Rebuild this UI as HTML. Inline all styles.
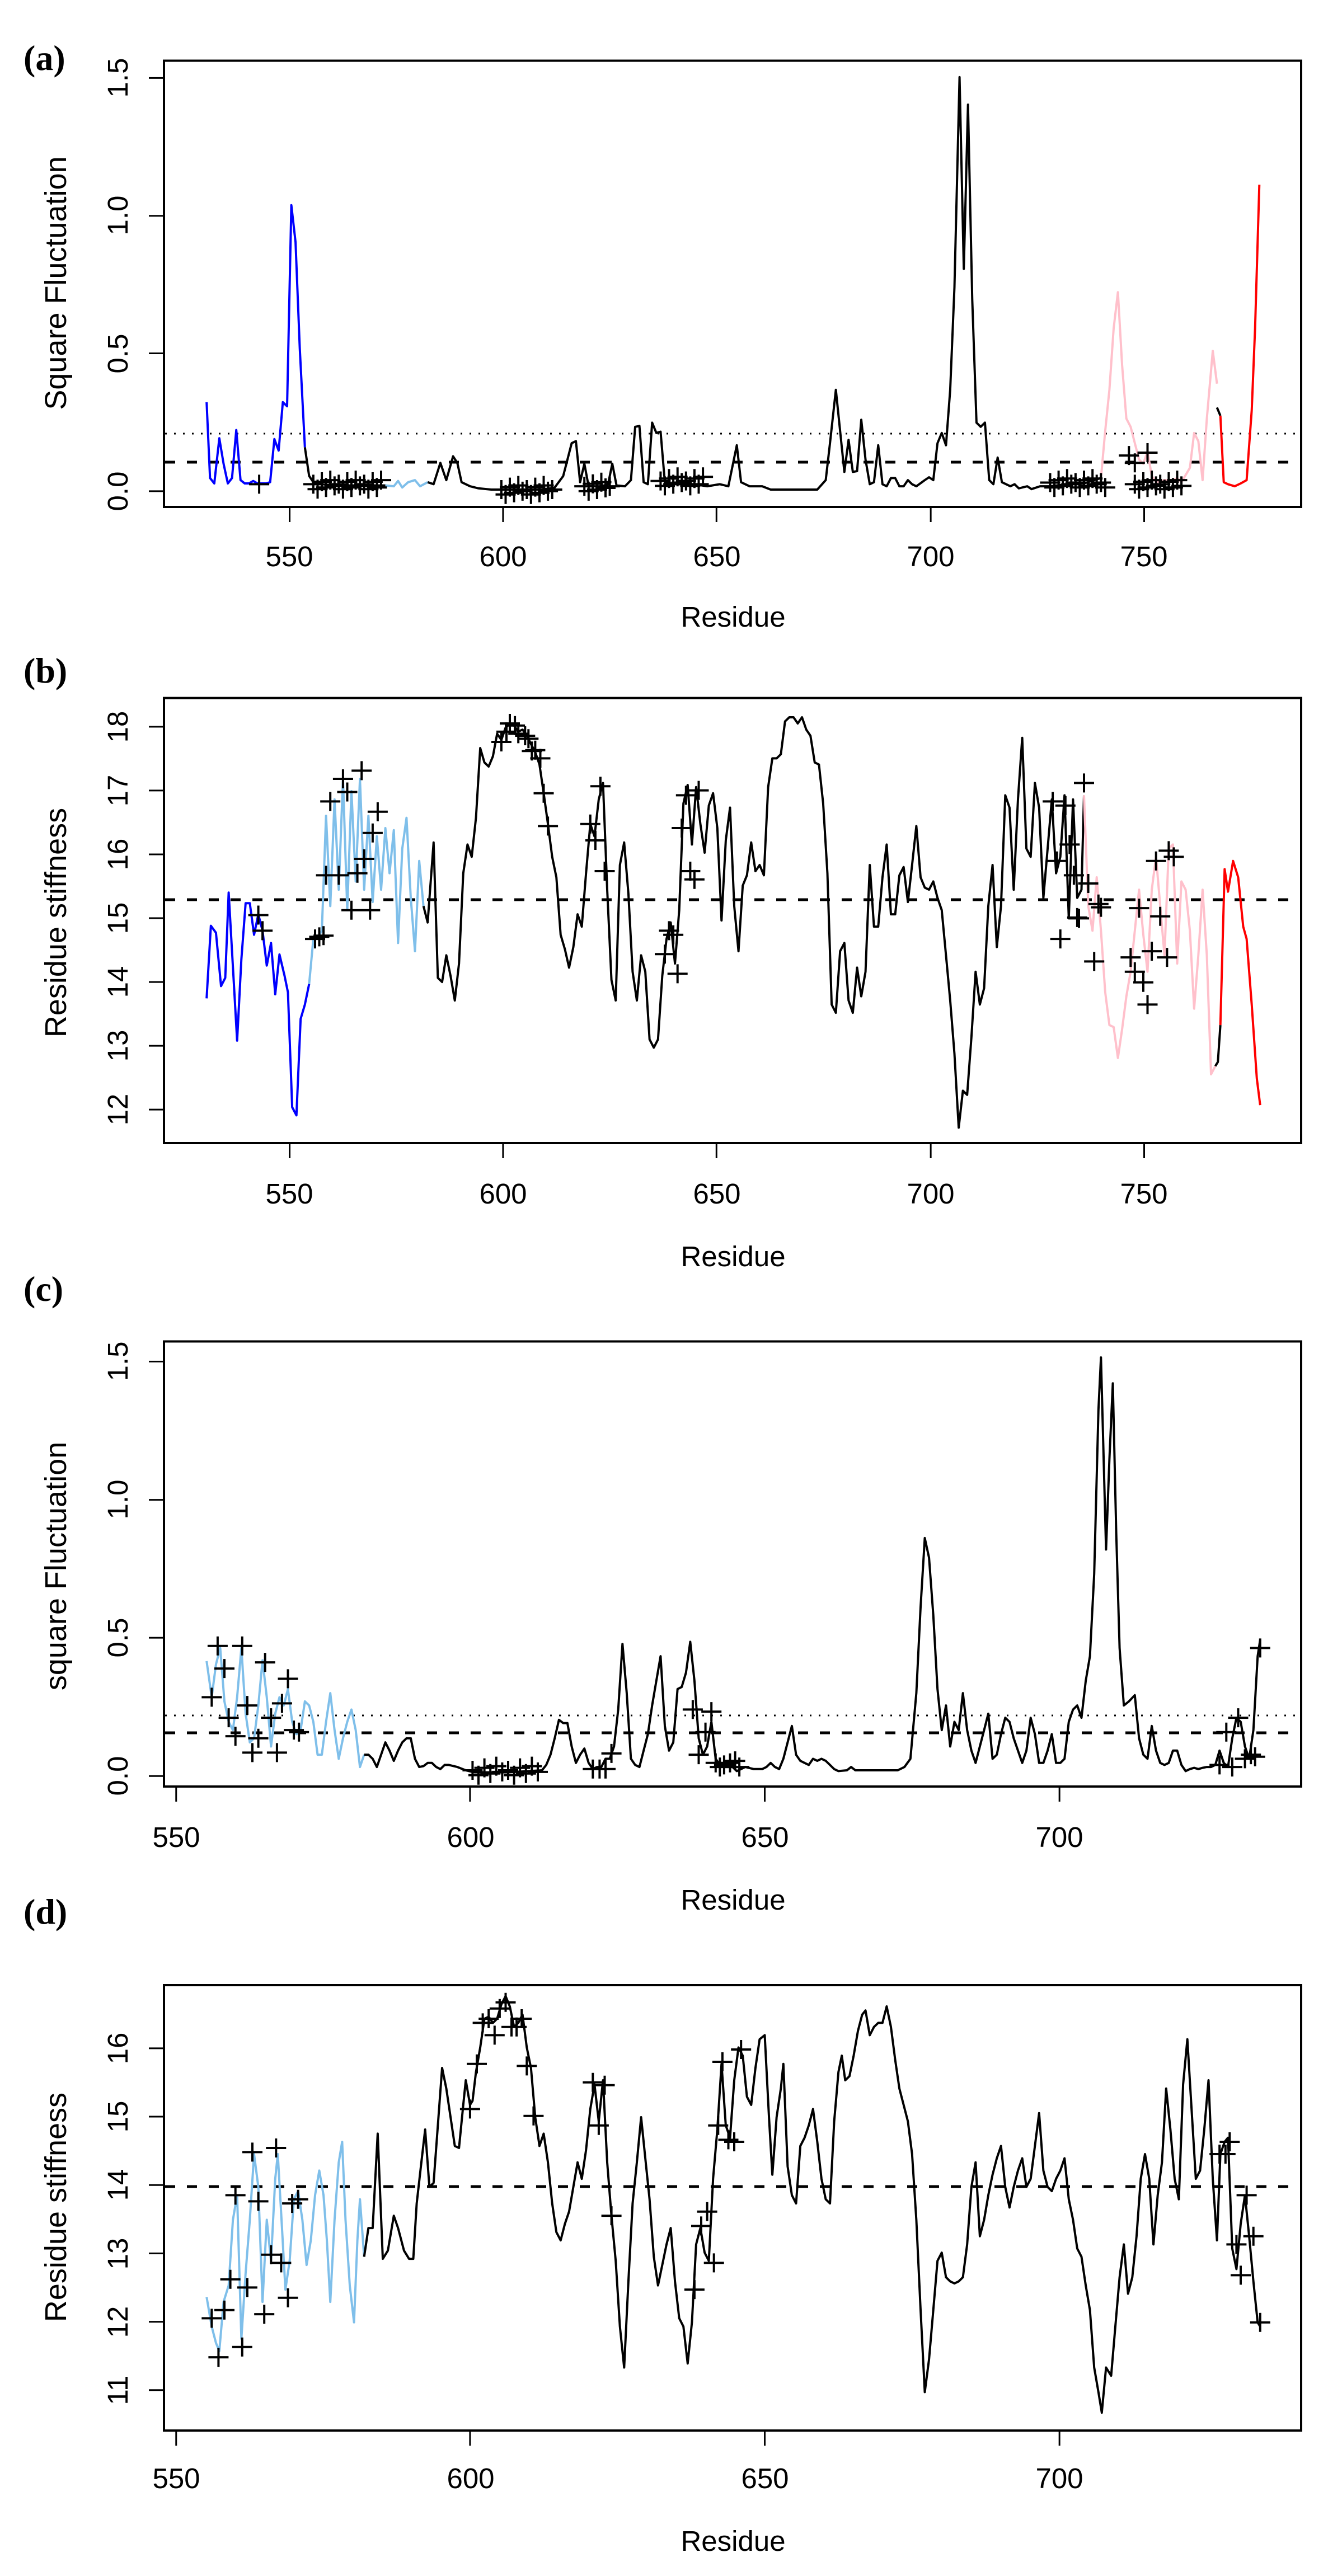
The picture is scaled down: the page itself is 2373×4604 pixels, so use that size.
<!DOCTYPE html>
<html><head><meta charset="utf-8"><style>
html,body{margin:0;padding:0;background:#fff;}
svg{display:block;}
text{font-family:"Liberation Sans",Arial,sans-serif;fill:#000;}
.pl{font-family:"Liberation Serif","Times New Roman",serif;font-weight:bold;font-size:64px;}
.tk{font-size:51px;}
.yl{font-size:54px;}
</style></head><body>
<svg id="s" width="2373" height="4604" viewBox="0 0 2373 4604" xmlns="http://www.w3.org/2000/svg">
<rect width="2373" height="4604" fill="#fff"/>
<text class="pl" x="42" y="125">(a)</text>
<text class="pl" x="42" y="1220">(b)</text>
<text class="pl" x="42" y="2325">(c)</text>
<text class="pl" x="42" y="3438">(d)</text>
<text class="tk" x="1310" y="1120" text-anchor="middle">Residue</text>
<text class="tk" x="1310" y="2263" text-anchor="middle">Residue</text>
<text class="tk" x="1310" y="3413" text-anchor="middle">Residue</text>
<text class="tk" x="1310" y="4559" text-anchor="middle">Residue</text>
<text class="yl" transform="translate(118,506) rotate(-90)" text-anchor="middle">Square Fluctuation</text>
<text class="yl" transform="translate(118,1649) rotate(-90)" text-anchor="middle">Residue stiffness</text>
<text class="yl" transform="translate(118,2799) rotate(-90)" text-anchor="middle">square Fluctuation</text>
<text class="yl" transform="translate(118,3945) rotate(-90)" text-anchor="middle">Residue stiffness</text>
<g id="ticklabels">
<!-- a y -->
<text class="tk" transform="translate(228,878) rotate(-90)" text-anchor="middle">0.0</text>
<text class="tk" transform="translate(228,632) rotate(-90)" text-anchor="middle">0.5</text>
<text class="tk" transform="translate(228,385) rotate(-90)" text-anchor="middle">1.0</text>
<text class="tk" transform="translate(228,139) rotate(-90)" text-anchor="middle">1.5</text>
<!-- a x -->
<text class="tk" x="517" y="1012" text-anchor="middle">550</text>
<text class="tk" x="899" y="1012" text-anchor="middle">600</text>
<text class="tk" x="1281" y="1012" text-anchor="middle">650</text>
<text class="tk" x="1663" y="1012" text-anchor="middle">700</text>
<text class="tk" x="2044" y="1012" text-anchor="middle">750</text>
<!-- b y -->
<text class="tk" transform="translate(228,1983) rotate(-90)" text-anchor="middle">12</text>
<text class="tk" transform="translate(228,1869) rotate(-90)" text-anchor="middle">13</text>
<text class="tk" transform="translate(228,1755) rotate(-90)" text-anchor="middle">14</text>
<text class="tk" transform="translate(228,1641) rotate(-90)" text-anchor="middle">15</text>
<text class="tk" transform="translate(228,1527) rotate(-90)" text-anchor="middle">16</text>
<text class="tk" transform="translate(228,1413) rotate(-90)" text-anchor="middle">17</text>
<text class="tk" transform="translate(228,1299) rotate(-90)" text-anchor="middle">18</text>
<text class="tk" x="517" y="2151" text-anchor="middle">550</text>
<text class="tk" x="899" y="2151" text-anchor="middle">600</text>
<text class="tk" x="1281" y="2151" text-anchor="middle">650</text>
<text class="tk" x="1663" y="2151" text-anchor="middle">700</text>
<text class="tk" x="2044" y="2151" text-anchor="middle">750</text>
<!-- c y -->
<text class="tk" transform="translate(228,3174) rotate(-90)" text-anchor="middle">0.0</text>
<text class="tk" transform="translate(228,2927) rotate(-90)" text-anchor="middle">0.5</text>
<text class="tk" transform="translate(228,2680) rotate(-90)" text-anchor="middle">1.0</text>
<text class="tk" transform="translate(228,2433) rotate(-90)" text-anchor="middle">1.5</text>
<text class="tk" x="315" y="3301" text-anchor="middle">550</text>
<text class="tk" x="841" y="3301" text-anchor="middle">600</text>
<text class="tk" x="1367" y="3301" text-anchor="middle">650</text>
<text class="tk" x="1893" y="3301" text-anchor="middle">700</text>
<!-- d y -->
<text class="tk" transform="translate(228,4272) rotate(-90)" text-anchor="middle">11</text>
<text class="tk" transform="translate(228,4150) rotate(-90)" text-anchor="middle">12</text>
<text class="tk" transform="translate(228,4028) rotate(-90)" text-anchor="middle">13</text>
<text class="tk" transform="translate(228,3905) rotate(-90)" text-anchor="middle">14</text>
<text class="tk" transform="translate(228,3783) rotate(-90)" text-anchor="middle">15</text>
<text class="tk" transform="translate(228,3661) rotate(-90)" text-anchor="middle">16</text>
<text class="tk" x="315" y="4447" text-anchor="middle">550</text>
<text class="tk" x="841" y="4447" text-anchor="middle">600</text>
<text class="tk" x="1367" y="4447" text-anchor="middle">650</text>
<text class="tk" x="1893" y="4447" text-anchor="middle">700</text>
</g>
<g id="plots"></g>
</svg>
<script>
(function(){
var NS="http://www.w3.org/2000/svg",G=document.getElementById("plots");
var KX=1/0.6608,KY=1150/1568;
function el(t,a){var e=document.createElementNS(NS,t);for(var k in a)e.setAttribute(k,a[k]);G.appendChild(e);return e;}
function line(p,off,col,w){var s=[];for(var i=0;i<p.length;i+=2)s.push((p[i]*KX).toFixed(1)+","+(p[i+1]*KY+off).toFixed(1));
 el("polyline",{points:s.join(" "),fill:"none",stroke:col,"stroke-width":w||4,"stroke-linejoin":"round"});}
function crosses(p,off){var d="";for(var i=0;i<p.length;i+=2){var x=p[i]*KX,y=p[i+1]*KY+off;
 d+="M"+(x-18).toFixed(1)+" "+y.toFixed(1)+"h36M"+x.toFixed(1)+" "+(y-17).toFixed(1)+"v34";}
 el("path",{d:d,stroke:"#000","stroke-width":4,fill:"none"});}
function dense(a,b,st,y,arr){var j=[0,12,-6,8,-10,4];var k=0;for(var x=a;x<=b;x+=st){arr.push(x,y+j[k%6]);k++;}}
function frame(top,bot,yt,xt,off){
 el("rect",{x:293,y:top,width:2032,height:bot-top,fill:"none",stroke:"#000","stroke-width":4});
 yt.forEach(function(v){var y=v*KY+off;el("line",{x1:266,y1:y,x2:293,y2:y,stroke:"#000","stroke-width":3});});
 xt.forEach(function(v){var x=v*KX;el("line",{x1:x,y1:bot,x2:x,y2:bot+27,stroke:"#000","stroke-width":3});});}
function hl(y,type){if(type=="dash")el("line",{x1:295,y1:y,x2:2323,y2:y,stroke:"#000","stroke-width":5,"stroke-dasharray":"18 21"});
 else el("line",{x1:295,y1:y,x2:2323,y2:y,stroke:"#000","stroke-width":3,"stroke-dasharray":"3 13"});}

/* ---------- panel a ---------- */
var o=0;
frame(108.5,906,[1197,861,526,190],[342,594,846,1099,1351],o);
hl(775,"dot");hl(826,"dash");
line([244,980,248,1165,253,1178,259,1068,264,1130,269,1178,274,1165,279,1048,284,1170,289,1178,294,1178,299,1172,304,1178,314,1178,319,1175,324,1070,329,1098,334,980,339,990,344,500,349,590,354,850,360,1090],o,"#0000ff");
line([360,1090,365,1160,370,1175,380,1180,395,1183,410,1183,430,1183,455,1183],o,"#000");
line([455,1183,465,1185,470,1172,475,1188,482,1175,490,1170,496,1185,505,1175],o,"#7fbfea");
line([505,1175,512,1180,520,1128,527,1170,535,1112,540,1128,545,1175,555,1185,565,1190,580,1193,640,1193,655,1188,665,1160,675,1080,680,1075,685,1175,690,1130,695,1185,710,1185,718,1180,723,1130,728,1183,738,1185,745,1170,750,1040,755,1038,760,1175,765,1180,770,1030,775,1055,780,1052,785,1175,800,1180,810,1180,820,1180,835,1185,850,1180,860,1185,870,1085,875,1175,885,1185,900,1185,910,1193,965,1193,975,1170,980,1080,987,950,993,1070,997,1150,1002,1072,1007,1150,1012,1148,1017,1023,1022,1120,1027,1180,1032,1175,1037,1085,1042,1180,1047,1185,1052,1165,1057,1165,1062,1185,1067,1185,1072,1170,1077,1180,1082,1185,1092,1170,1097,1163,1102,1170,1107,1080,1112,1055,1117,1085,1122,950,1127,700,1133,188,1138,655,1143,255,1148,730,1153,1030,1158,1040,1163,1030,1168,1170,1173,1180,1178,1115,1183,1175,1193,1185,1198,1180,1203,1190,1213,1185,1218,1192,1228,1185,1240,1185,1260,1180,1280,1178,1300,1165],o,"#000");
line([1300,1165,1305,1050,1310,950,1315,800,1320,712,1325,890,1330,1020,1335,1040,1345,1120,1350,1130,1355,1100,1360,1160,1365,1175,1375,1170,1385,1170,1390,1165,1395,1175,1405,1140,1410,1055,1415,1075,1420,1170,1425,1020,1432,855,1437,935],o,"#ffc0cb");
line([1437,993,1441,1013],o,"#000");
line([1441,1013,1445,1175,1450,1180,1458,1185,1465,1178,1472,1170,1478,1000,1482,800,1487,450],o,"#ff0000");
var ca=[306,1180,1333,1110,1340,1128,1355,1103];
dense(370,450,5,1180,ca);dense(592,655,5,1193,ca);dense(690,720,5,1185,ca);dense(780,830,5,1172,ca);dense(1240,1305,5,1176,ca);dense(1340,1395,5,1180,ca);
crosses(ca,o);

/* ---------- panel b ---------- */
o=1150;
var yb=[];for(var v=12;v<=18;v++)yb.push(1136-(v-12)*155.5);
frame(1247.5,2043,yb,[342,594,846,1099,1351],o);
hl(1608,"dash");
line([244,865,249,688,255,705,261,835,266,815,270,607,274,750,280,968,285,770,290,633,295,633,300,710,305,660,310,700,315,785,320,730,325,855,330,758,336,810,340,850,345,1130,350,1150,355,915,360,880,365,830],o,"#0000ff");
line([365,830,370,720,375,718,380,700,385,420,390,640,395,380,400,600,405,330,410,650,415,360,420,580,425,330,430,600,435,420,440,630,445,470,450,600,455,450,460,560,465,455,470,730,475,500,480,425,485,620,490,750,495,530,500,640],o,"#7fbfea");
line([500,640,505,680,512,485,517,815,522,825,527,760,532,810,537,870,542,780,547,560,552,490,557,520,562,425,567,255,572,290,577,300,582,275,587,220,592,235,597,205,602,195,607,200,612,215,617,210,622,225,627,245,632,265,637,295,642,365,647,440,652,520,657,570,662,710,667,745,672,790,677,740,682,660,687,690,692,560,697,440,702,470,707,380,712,340,717,600,722,820,727,870,732,540,737,485,742,610,747,800,752,870,757,760,762,800,767,965,772,985,777,965,782,810,787,720,792,680,797,780,802,650,807,390,812,345,817,490,822,350,827,440,832,510,837,395,842,365,847,450,852,675,857,480,862,400,867,640,872,750,877,590,882,565,887,485,892,555,897,540,902,565,907,350,912,280,917,280,922,270,927,190,932,180,937,180,942,195,947,180,952,210,957,225,962,290,967,295,972,390,977,560,982,880,987,900,992,750,997,730,1002,870,1007,900,1012,790,1017,860,1022,800,1027,540,1032,690,1037,690,1042,570,1047,490,1052,660,1057,660,1062,565,1067,545,1072,630,1077,540,1082,445,1087,570,1092,595,1097,600,1102,580,1107,620,1112,650,1117,760,1122,870,1127,1000,1132,1180,1137,1090,1142,1100,1147,960,1152,800,1157,880,1162,840,1167,640,1172,540,1177,740,1182,640,1187,370,1192,400,1197,600,1202,380,1207,230,1212,500,1217,520,1222,340,1227,400,1232,620,1237,500,1242,380,1247,560,1252,520,1257,370,1262,670,1267,380,1272,620,1277,600,1280,370],o,"#000");
line([1280,370,1285,640,1290,700,1295,570,1300,700,1305,850,1310,930,1315,935,1320,1010,1325,940,1330,860,1335,800,1340,700,1345,600,1350,710,1355,800,1360,600,1365,520,1370,640,1375,760,1380,500,1385,490,1390,780,1395,580,1400,600,1405,700,1410,890,1415,760,1420,600,1425,760,1430,1050,1435,1030],o,"#ffc0cb");
line([1435,1030,1438,1020,1441,930],o,"#000");
line([1441,930,1446,550,1450,605,1456,530,1462,570,1468,690,1472,720,1478,880,1484,1060,1488,1125],o,"#ff0000");
crosses([372,720,377,715,382,712,390,385,385,565,400,565,405,330,410,362,415,650,422,560,427,310,430,525,437,650,440,462,446,410,305,662,310,700,592,240,598,215,602,195,608,200,612,220,620,225,624,232,628,262,632,260,638,280,642,365,647,445,697,440,703,480,709,348,714,555,785,757,790,700,795,710,800,805,805,450,810,370,815,555,820,575,825,358,1243,385,1248,530,1258,395,1263,490,1268,565,1274,670,1280,340,1285,585,1292,775,1297,635,1300,643,1252,720,1335,765,1340,800,1345,645,1350,826,1355,880,1360,750,1365,530,1370,665,1378,765,1380,505,1386,520,1272,668],o);

/* ---------- panel c ---------- */
o=2300;
frame(2397.5,3193,[1192,855,519,182],[208,555,903,1251],o);
hl(3066,"dot");hl(3097,"dash");
line([244,912,250,1000,255,920,260,880,265,1010,270,1060,275,1080,280,1000,285,880,290,1040,295,1110,300,1100,305,1020,310,910,315,1000,320,1120,325,1040,330,1000,335,1020,340,980,345,1060,350,1090,355,1080,360,1010,365,1020,370,1060,375,1140,380,1140,385,1060,390,990,395,1080,400,1150,405,1100,410,1060,415,1030,420,1080,425,1170,430,1140],o,"#7fbfea");
line([430,1140,435,1140,440,1150,445,1170,450,1140,455,1110,460,1130,465,1155,470,1130,475,1110,480,1100,485,1100,490,1150,495,1170,500,1168,505,1160,510,1160,515,1170,520,1175,525,1165,530,1165,540,1170,550,1178,560,1183,600,1183,640,1178,645,1165,650,1140,655,1100,660,1055,665,1063,670,1063,675,1120,680,1160,685,1140,690,1125,695,1160,700,1175,705,1170,710,1170,715,1150,720,1150,725,1120,730,1030,735,870,740,990,745,1150,750,1165,755,1170,760,1130,765,1090,770,1020,775,960,780,900,785,1070,790,1130,795,1110,800,980,805,975,810,940,815,865,820,960,825,1100,830,1140,835,1120,840,1060,845,1150,850,1165,855,1170,860,1170,865,1170,870,1180,880,1170,890,1175,900,1175,905,1170,910,1160,915,1170,920,1175,925,1150,930,1110,935,1070,940,1140,945,1155,950,1160,955,1165,960,1150,965,1155,970,1150,975,1155,980,1165,985,1175,990,1180,1000,1178,1005,1170,1010,1178,1060,1178,1068,1170,1075,1150,1082,990,1087,780,1092,612,1097,660,1102,800,1107,980,1112,1080,1117,1020,1122,1120,1127,1060,1132,1080,1137,990,1142,1080,1147,1130,1152,1160,1157,1120,1162,1080,1167,1040,1172,1150,1177,1140,1182,1090,1187,1050,1192,1060,1197,1100,1202,1130,1207,1160,1212,1130,1217,1050,1222,1090,1227,1160,1232,1160,1237,1130,1242,1090,1247,1160,1252,1160,1257,1150,1262,1060,1267,1030,1272,1020,1277,1050,1282,960,1287,900,1292,700,1297,300,1300,172,1306,640,1310,420,1314,235,1318,600,1322,880,1327,1020,1333,1010,1340,995,1345,1100,1350,1140,1355,1150,1360,1070,1365,1130,1370,1160,1375,1165,1380,1160,1385,1130,1390,1130,1395,1165,1400,1180,1405,1175,1410,1172,1415,1175,1420,1172,1425,1170,1430,1170,1435,1165,1440,1130,1445,1160,1450,1170,1455,1100,1460,1050,1465,1060,1470,1120,1475,1150,1480,1080,1485,900,1488,860],o,"#000");
var cc=[250,1000,257,875,265,930,270,1050,278,1095,286,875,292,1020,298,1135,305,1100,313,915,320,1050,327,1135,333,1015,340,955,347,1080,353,1085,700,1175,708,1175,715,1175,722,1137,818,1030,825,1140,833,1085,840,1035,845,1160,850,1170,855,1165,862,1160,868,1155,873,1170,1440,1165,1448,1085,1455,1170,1462,1050,1470,1150,1477,1140,1482,1145,1488,880];
dense(558,635,7,1178,cc);
crosses(cc,o);

/* ---------- panel d ---------- */
o=3454;
var yd=[];for(var v=11;v<=16;v++)yd.push(1115-(v-11)*166.6);
frame(3548,4344,yd,[208,555,903,1251],o);
hl(3908,"dash");
line([244,888,250,960,255,1000,259,1020,264,900,270,860,275,700,280,640,285,990,290,830,295,700,300,540,305,620,310,900,315,700,320,800,325,600,328,540,333,720,337,870,342,800,347,650,352,630,357,700,362,810,367,750,372,640,377,580,382,640,386,750,390,900,395,700,400,560,404,510,408,700,413,860,418,950,422,750,425,650,430,790],o,"#7fbfea");
line([430,790,435,720,440,720,446,490,452,795,458,775,465,690,470,720,477,775,483,795,488,795,492,660,497,570,502,480,507,620,512,610,517,470,522,330,527,380,532,450,537,520,542,525,547,420,550,360,555,420,558,410,562,340,567,280,572,210,577,205,582,220,587,210,592,175,597,155,602,180,607,230,612,220,617,200,622,280,627,330,632,450,637,520,642,490,647,560,652,660,657,730,662,750,667,710,672,680,677,620,682,560,687,600,692,530,697,430,702,370,707,460,712,360,717,560,722,690,727,800,732,960,737,1060,742,850,747,660,752,560,757,450,762,550,767,650,772,790,777,860,782,810,787,760,792,720,797,850,802,940,807,960,812,1050,817,950,822,760,827,720,832,780,837,800,842,600,847,480,852,320,857,470,862,500,867,360,872,280,877,300,882,400,887,420,892,330,897,260,903,250,908,450,912,590,917,450,922,380,925,320,930,570,935,640,940,660,945,520,950,500,955,470,960,430,965,510,970,600,975,650,980,660,985,460,990,340,994,300,998,360,1003,350,1008,300,1013,240,1018,200,1022,190,1027,250,1032,230,1037,220,1042,220,1047,180,1052,230,1057,310,1062,380,1067,420,1072,460,1077,540,1082,700,1087,920,1092,1120,1097,1040,1102,920,1107,800,1112,780,1117,840,1122,850,1127,855,1132,850,1137,840,1142,760,1147,620,1152,560,1157,740,1162,700,1167,640,1172,590,1177,550,1182,520,1187,620,1192,670,1197,620,1202,580,1207,550,1212,620,1217,600,1222,520,1227,440,1232,580,1237,620,1242,630,1247,600,1252,580,1257,550,1262,650,1267,700,1272,770,1277,790,1282,860,1287,920,1292,1060,1297,1120,1301,1170,1306,1060,1312,1080,1317,960,1322,840,1327,760,1332,880,1337,840,1342,740,1347,600,1352,540,1357,600,1362,760,1367,640,1372,560,1377,380,1382,480,1387,600,1392,650,1397,370,1402,260,1407,430,1412,600,1417,580,1422,480,1427,360,1432,600,1437,750,1441,540,1446,510,1450,500,1455,770,1460,820,1465,710,1470,640,1475,740,1480,850,1485,950,1488,960],o,"#000");
crosses([250,940,258,1035,265,920,272,845,278,640,286,1010,292,865,298,535,305,655,312,930,320,785,326,525,332,805,340,890,345,660,352,650,555,430,563,320,570,220,577,210,584,250,590,185,597,170,604,230,610,230,616,210,622,325,630,447,700,365,707,470,714,372,722,690,820,870,828,715,835,680,843,805,848,470,853,315,860,505,867,510,875,285,1440,540,1447,540,1452,510,1460,760,1465,835,1472,640,1480,740,1488,950],o);
})();
</script>
</body></html>
